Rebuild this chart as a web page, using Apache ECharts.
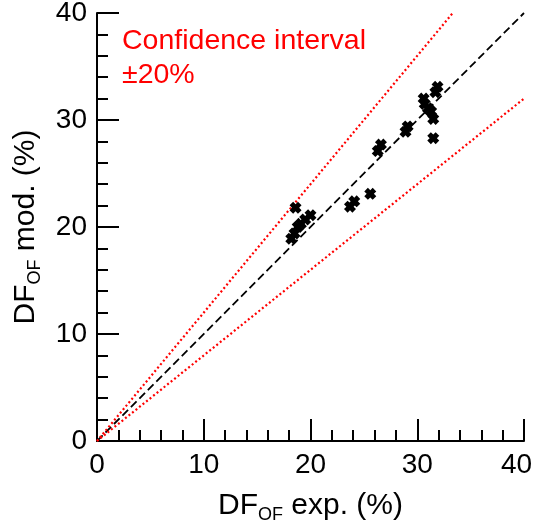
<!DOCTYPE html>
<html>
<head>
<meta charset="utf-8">
<script src="https://cdn.jsdelivr.net/npm/echarts@6/dist/echarts.min.js"></script>
<style>
  html, body { margin: 0; padding: 0; background: #fff; }
  #chart { width: 534px; height: 527px; }
</style>
</head>
<body>
<div id="chart"></div>
<script>
// measured vs modelled DF_OF (%)
var expValues = [18.2, 18.5, 18.8, 19.1, 19.5, 20.0, 18.6, 23.7, 24.1, 25.6, 26.3, 26.6, 28.9, 29.1,
                 31.5, 31.5, 31.3, 31.0, 30.7, 30.6, 31.7, 31.9];
var modValues = [18.9, 19.4, 20.0, 20.3, 20.7, 21.1, 21.8, 21.9, 22.4, 23.1, 27.1, 27.7, 28.9, 29.4,
                 28.3, 30.1, 30.8, 31.1, 31.5, 32.0, 32.6, 33.1];
// reference lines: 1:1 and the +/-20% band
var identityLine = [[0, 0], [40, 40]];
var upperLine = [[0, 0], [33.33, 40]];
var lowerLine = [[0, 0], [40, 32]];
var tickLabels = ['0', '10', '20', '30', '40'];

var points = expValues.map(function (x, i) { return [x, modValues[i]]; });

var font = 'Liberation Sans, Arial, sans-serif';
var crossPath = 'path://M3,0 L5,2 L7,0 L10,3 L8,5 L10,7 L7,10 L5,8 L3,10 L0,7 L2,5 L0,3 Z';

function axisOpts(nameText, gap, isX) {
  return {
    type: 'value',
    min: 0,
    max: 40,
    interval: 10,
    name: nameText,
    nameLocation: 'middle',
    nameGap: gap,
    nameTextStyle: {
      color: '#000',
      fontFamily: font,
      fontSize: 30,
      rich: {
        m: { fontFamily: font, fontSize: 30, color: '#000' },
        s: { fontFamily: font, fontSize: 18, color: '#000', verticalAlign: 'bottom', padding: [0, 0, -3, 0] }
      }
    },
    axisLine: { show: true, onZero: false, lineStyle: { color: '#000', width: 2 } },
    axisTick: { show: true, inside: true, length: 22, lineStyle: { color: '#000', width: 2 } },
    minorTick: { show: true, splitNumber: 5, length: 11, lineStyle: { color: '#000', width: 2 } },
    splitLine: { show: false },
    axisLabel: {
      color: '#000',
      fontFamily: font,
      fontSize: 28,
      margin: 10,
      rich: {
        e: { fontFamily: font, fontSize: 28, color: '#000', padding: [0, 15, 0, 0] }
      },
      formatter: function (v) {
        var t = tickLabels[Math.round(v / 10)];
        // last x label sits a little inside the figure edge
        return (isX && v === 40) ? '{e|' + t + '}' : t;
      }
    }
  };
}

var chart = echarts.init(document.getElementById('chart'));
chart.setOption({
  animation: false,
  backgroundColor: '#fff',
  grid: { left: 97, right: 10, top: 13, bottom: 86, outerBoundsMode: 'none', containLabel: false },
  xAxis: axisOpts('{m|DF}{s|OF}{m| exp. (%)}', 50, true),
  yAxis: axisOpts('{m|DF}{s|OF}{m| mod. (%)}', 56, false),
  graphic: [{
    type: 'text',
    left: 122,
    top: 24,
    style: {
      text: 'Confidence interval\n±20%',
      fill: '#ff0000',
      font: '28.5px ' + font,
      lineHeight: 34
    }
  }],
  series: [
    {
      type: 'line', data: identityLine, symbol: 'none', silent: true,
      lineStyle: { color: '#000', width: 1.8, type: [8, 4] }
    },
    {
      type: 'line', data: upperLine, symbol: 'none', silent: true,
      lineStyle: { color: '#ff0000', width: 2.2, type: [2, 2.5] }
    },
    {
      type: 'line', data: lowerLine, symbol: 'none', silent: true,
      lineStyle: { color: '#ff0000', width: 2.2, type: [2, 2.5] }
    },
    {
      type: 'scatter', data: points, symbol: crossPath, symbolSize: 12,
      itemStyle: { color: '#000', opacity: 1 }, z: 5
    }
  ]
});
</script>
</body>
</html>
